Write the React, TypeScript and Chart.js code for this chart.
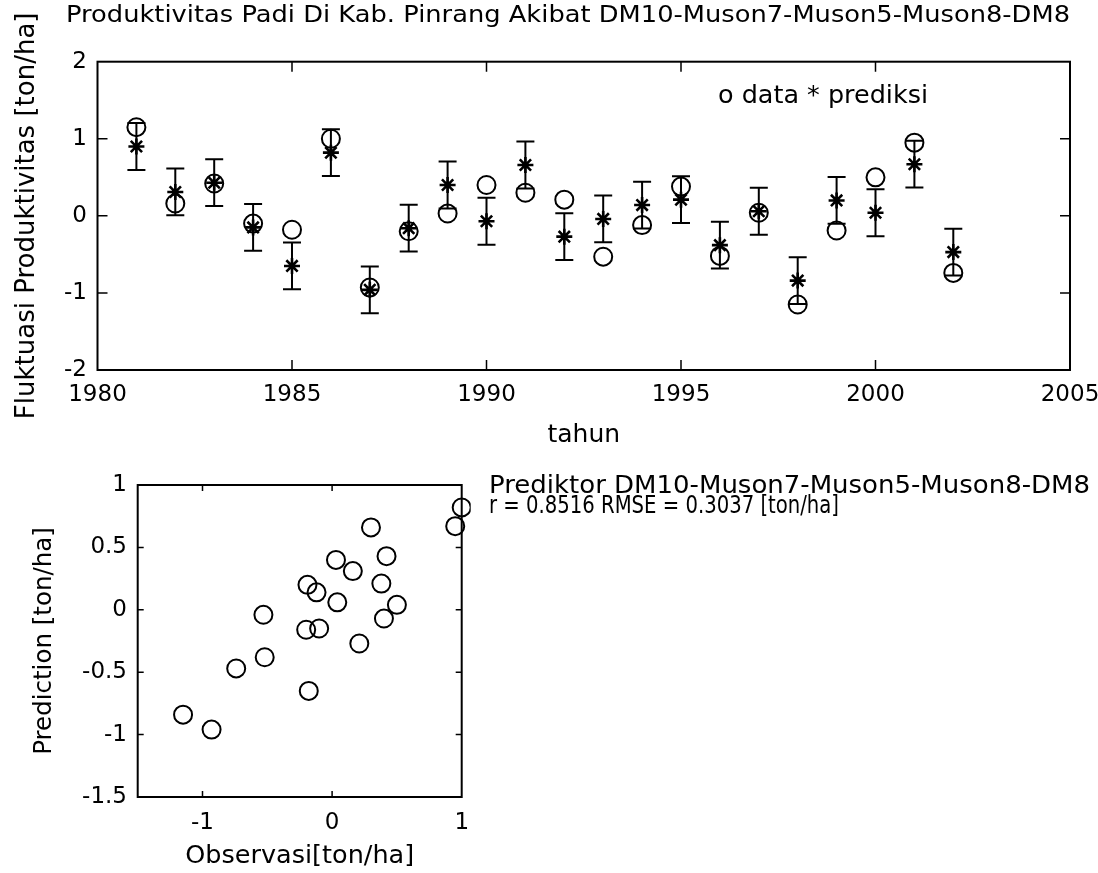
import React, { useEffect, useRef } from "react";
import { Chart, registerables } from "chart.js";

Chart.register(...registerables);

// ---------------- data ----------------
const years = [1981, 1982, 1983, 1984, 1985, 1986, 1987, 1988, 1989, 1990, 1991, 1992, 1993, 1994, 1995, 1996, 1997, 1998, 1999, 2000, 2001, 2002];
const observed = [1.15, 0.16, 0.42, -0.10, -0.18, 1.00, -0.93, -0.20, 0.03, 0.40, 0.30, 0.21, -0.53, -0.12, 0.38, -0.52, 0.04, -1.15, -0.19, 0.50, 0.95, -0.74];
const predicted = [0.90, 0.31, 0.43, -0.15, -0.65, 0.82, -0.96, -0.16, 0.40, -0.07, 0.66, -0.27, -0.04, 0.14, 0.21, -0.38, 0.06, -0.84, 0.20, 0.04, 0.67, -0.47];
const rmse = 0.3037;
const corr = 0.8516;
const scatterXTicks = [-1, 0, 1];

const titleText = "Produktivitas Padi Di Kab. Pinrang Akibat DM10-Muson7-Muson5-Muson8-DM8";
const legendText = "o data * prediksi";
const predictorText = "Prediktor DM10-Muson7-Muson5-Muson8-DM8";
const statText = `r = ${corr.toFixed(4)} RMSE = ${rmse.toFixed(4)} [ton/ha]`;

const FONT = "'DejaVu Sans', 'Liberation Sans', Arial, sans-serif";

type TextItem = { text: string; x: number; y: number; size: number; width: number };

// draws left-aligned text, stretched horizontally to the wanted width
function textPlugin(items: TextItem[]) {
  return {
    id: "extraText",
    afterDraw(chart: any) {
      const ctx = chart.ctx as CanvasRenderingContext2D;
      items.forEach((it) => {
        ctx.save();
        ctx.fillStyle = "#000";
        ctx.textBaseline = "middle";
        ctx.textAlign = "left";
        ctx.font = `${it.size}px ${FONT}`;
        const w = ctx.measureText(it.text).width;
        ctx.translate(it.x, it.y);
        ctx.scale(it.width / w, 1);
        ctx.fillText(it.text, 0, 0);
        ctx.restore();
      });
    },
  };
}

function boxPlugin(tickLen: number) {
  return {
    id: "matlabBox",
    afterDatasetsDraw(chart: any) {
      const { ctx, chartArea: a, scales } = chart;
      ctx.save();
      ctx.strokeStyle = "#000";
      ctx.lineWidth = 1.5;
      ctx.beginPath();
      scales.x.ticks.forEach((t: any) => {
        const px = scales.x.getPixelForValue(t.value);
        if (px <= a.left + 1 || px >= a.right - 1) return;
        ctx.moveTo(px, a.bottom);
        ctx.lineTo(px, a.bottom - tickLen);
        ctx.moveTo(px, a.top);
        ctx.lineTo(px, a.top + tickLen);
      });
      scales.y.ticks.forEach((t: any) => {
        const py = scales.y.getPixelForValue(t.value);
        if (py <= a.top + 1 || py >= a.bottom - 1) return;
        ctx.moveTo(a.left, py);
        ctx.lineTo(a.left + tickLen, py);
        ctx.moveTo(a.right, py);
        ctx.lineTo(a.right - tickLen, py);
      });
      ctx.stroke();
      ctx.lineWidth = 2;
      ctx.strokeRect(a.left, a.top, a.right - a.left, a.bottom - a.top);
      ctx.restore();
    },
  };
}

function errorBarPlugin(xs: number[], ys: number[], err: number, cap: number) {
  return {
    id: "errorBars",
    beforeDatasetsDraw(chart: any) {
      const { ctx, scales } = chart;
      ctx.save();
      ctx.strokeStyle = "#000";
      ctx.lineWidth = 2;
      ctx.beginPath();
      xs.forEach((xv, i) => {
        const px = scales.x.getPixelForValue(xv);
        const top = scales.y.getPixelForValue(ys[i] + err);
        const bot = scales.y.getPixelForValue(ys[i] - err);
        ctx.moveTo(px, top);
        ctx.lineTo(px, bot);
        ctx.moveTo(px - cap, top);
        ctx.lineTo(px + cap, top);
        ctx.moveTo(px - cap, bot);
        ctx.lineTo(px + cap, bot);
      });
      ctx.stroke();
      ctx.restore();
    },
  };
}

const tickFont = { family: FONT, size: 23 };
const numLabel = (v: any) => String(v);
const noScalePadding = (s: any) => {
  s.paddingLeft = 0;
  s.paddingRight = 0;
  s.paddingTop = 0;
  s.paddingBottom = 0;
};

export default function App() {
  const topRef = useRef<HTMLCanvasElement>(null);
  const botRef = useRef<HTMLCanvasElement>(null);

  useEffect(() => {
    const c1 = new Chart(topRef.current!, {
      type: "scatter",
      data: {
        datasets: [
          {
            label: "data",
            data: years.map((y, i) => ({ x: y, y: observed[i] })),
            pointStyle: "circle",
            pointRadius: 9,
            borderColor: "#000",
            backgroundColor: "rgba(0,0,0,0)",
            borderWidth: 2,
          },
          {
            label: "prediksi",
            data: years.map((y, i) => ({ x: y, y: predicted[i] })),
            pointStyle: "star",
            pointRadius: 8,
            borderColor: "#000",
            backgroundColor: "#000",
            borderWidth: 2.6,
          },
        ],
      },
      options: {
        animation: false,
        responsive: false,
        events: [],
        layout: { autoPadding: false, padding: { top: 61.7, right: 28, left: 0, bottom: 0 } },
        plugins: { legend: { display: false }, tooltip: { enabled: false }, title: { display: false } },
        scales: {
          x: {
            type: "linear",
            min: 1980,
            max: 2005,
            grid: { display: false, drawTicks: false },
            border: { display: false },
            ticks: { stepSize: 5, font: tickFont, color: "#000", padding: 11, maxRotation: 0, callback: numLabel },
            title: { display: true, text: "tahun", font: { family: FONT, size: 25 }, color: "#000", padding: { top: 0, bottom: 20 } },
            afterFit: (s: any) => { s.height = 100; noScalePadding(s); },
          },
          y: {
            type: "linear",
            min: -2,
            max: 2,
            grid: { display: false, drawTicks: false },
            border: { display: false },
            ticks: { stepSize: 1, font: tickFont, color: "#000", padding: 10.5, callback: numLabel },
            title: { display: true, text: "Fluktuasi Produktivitas [ton/ha]", font: { family: FONT, size: 26 }, color: "#000", padding: { top: 12, bottom: 0 } },
            afterFit: (s: any) => { s.width = 97.5; noScalePadding(s); },
          },
        },
      },
      plugins: [
        errorBarPlugin(years, predicted, rmse, 9),
        boxPlugin(10),
        textPlugin([
          { text: titleText, x: 66, y: 16, size: 23, width: 1004 },
          { text: legendText, x: 718, y: 97, size: 24, width: 210 },
        ]),
      ],
    } as any);

    const c2 = new Chart(botRef.current!, {
      type: "scatter",
      data: {
        datasets: [
          {
            label: "obs vs pred",
            data: observed.map((o, i) => ({ x: o, y: predicted[i] })),
            pointStyle: "circle",
            pointRadius: 9,
            borderColor: "#000",
            backgroundColor: "rgba(0,0,0,0)",
            borderWidth: 2,
            clip: { left: 9, right: 9, top: 9, bottom: 9 },
          },
        ],
      },
      options: {
        animation: false,
        responsive: false,
        events: [],
        layout: { autoPadding: false, padding: { top: 15, right: 636.3, left: 0, bottom: 0 } },
        plugins: { legend: { display: false }, tooltip: { enabled: false }, title: { display: false } },
        scales: {
          x: {
            type: "linear",
            min: -1.5,
            max: 1,
            grid: { display: false, drawTicks: false },
            border: { display: false },
            ticks: { font: tickFont, color: "#000", padding: 12, maxRotation: 0, callback: numLabel },
            afterBuildTicks: (s: any) => { s.ticks = scatterXTicks.map((v) => ({ value: v })); },
            title: { display: true, text: "Observasi[ton/ha]", font: { family: FONT, size: 25.5 }, color: "#000", padding: { top: 0, bottom: 1 } },
            afterFit: (s: any) => { s.height = 76; noScalePadding(s); },
          },
          y: {
            type: "linear",
            min: -1.5,
            max: 1,
            grid: { display: false, drawTicks: false },
            border: { display: false },
            ticks: { stepSize: 0.5, font: tickFont, color: "#000", padding: 10.7, callback: numLabel },
            title: { display: true, text: "Prediction [ton/ha]", font: { family: FONT, size: 24.5 }, color: "#000", padding: { top: 30.3, bottom: 0 } },
            afterFit: (s: any) => { s.width = 137.7; noScalePadding(s); },
          },
        },
      },
      plugins: [
        boxPlugin(6),
        textPlugin([
          { text: predictorText, x: 489, y: 17, size: 24, width: 601 },
          { text: statText, x: 489, y: 37, size: 24, width: 350 },
        ]),
      ],
    } as any);

    return () => {
      c1.destroy();
      c2.destroy();
    };
  }, []);

  return (
    <div style={{ position: "absolute", left: 0, top: 0, width: 1098, height: 873, background: "#fff" }}>
      <canvas ref={topRef} width={1098} height={470} style={{ position: "absolute", left: 0, top: 0, display: "block" }} />
      <canvas ref={botRef} width={1098} height={403} style={{ position: "absolute", left: 0, top: 470, display: "block" }} />
    </div>
  );
}
